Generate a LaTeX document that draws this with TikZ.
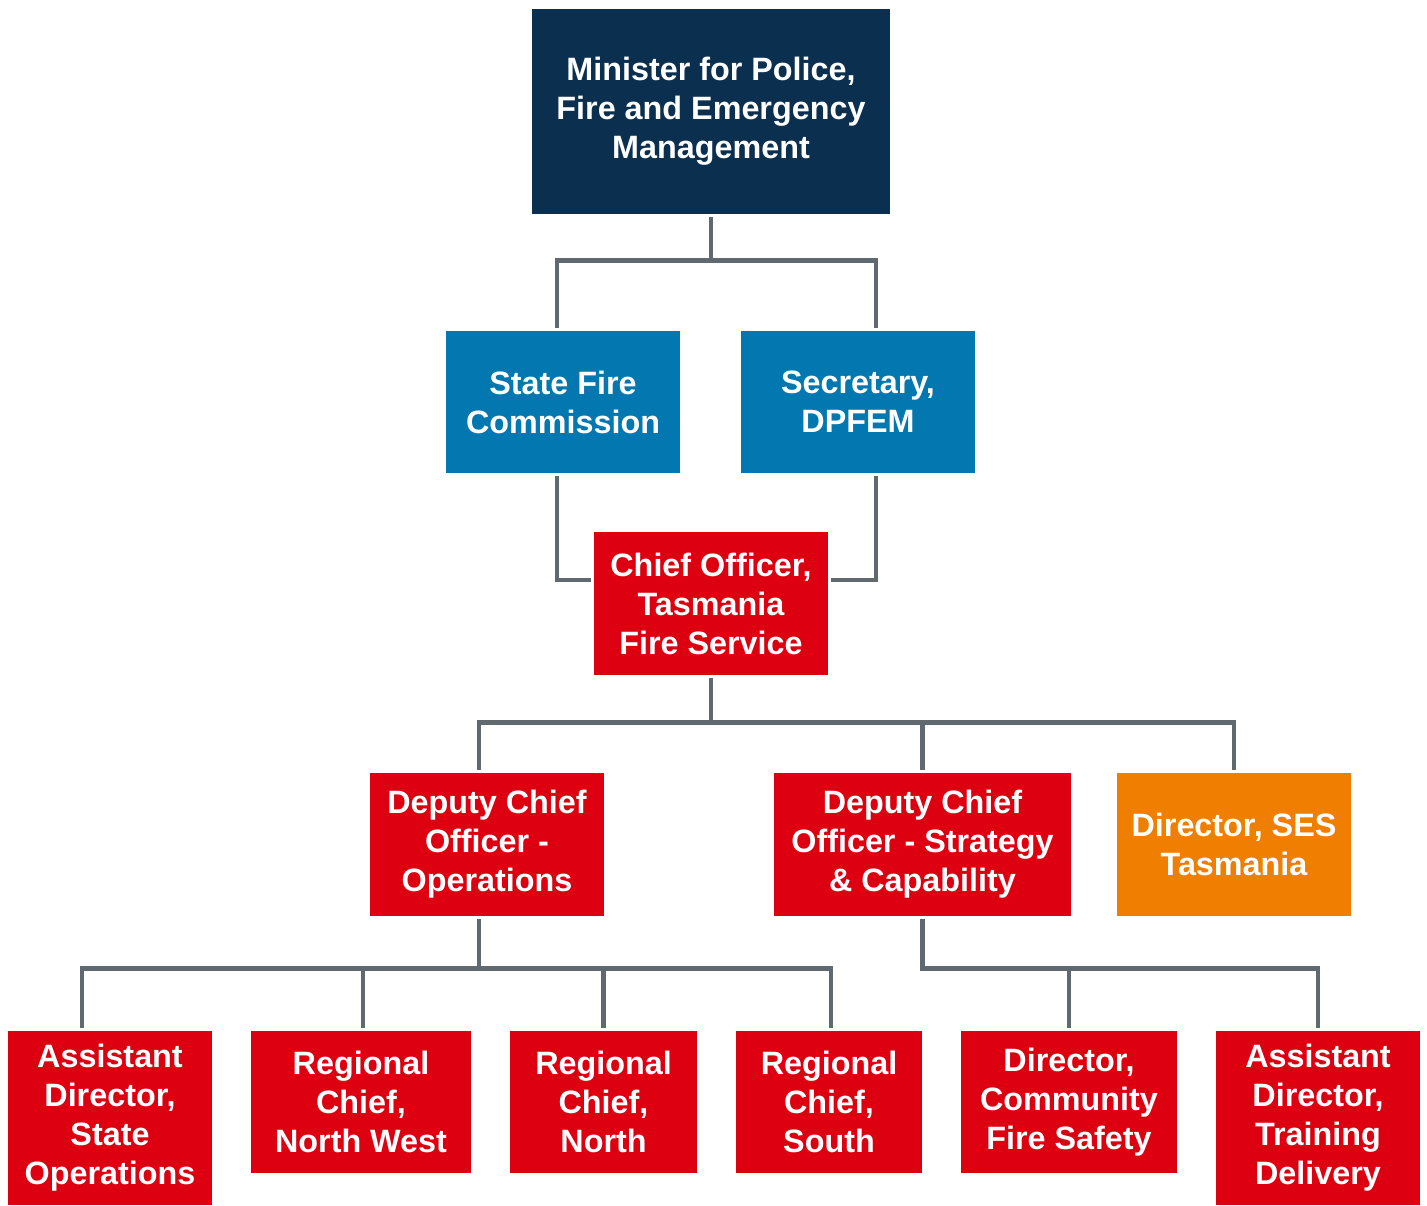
\documentclass[tikz,border=0pt]{standalone}
\usepackage{fontspec}
\setmainfont{Liberation Sans}
\usepackage{xcolor}
\definecolor{tfsNavy}{RGB}{11,47,79}
\definecolor{tfsBlue}{RGB}{2,119,176}
\definecolor{tfsRed}{RGB}{220,0,17}
\definecolor{sesOrange}{RGB}{240,126,0}
\definecolor{linkGray}{RGB}{96,104,112}
\usepackage{tikz}
\usetikzlibrary{calc}
\tikzstyle{orgbox}=[text=white, align=center, inner sep=0pt, font=\fontsize{18.4}{22.2}\selectfont\bfseries]
\tikzstyle{navybox}=[orgbox, fill=tfsNavy, minimum width=7.16cm, minimum height=4.1cm]
\tikzstyle{bluebox}=[orgbox, fill=tfsBlue, minimum width=4.68cm, minimum height=2.84cm]
\tikzstyle{redbox}=[orgbox, fill=tfsRed, minimum width=4.68cm, minimum height=2.86cm]
\tikzstyle{orangebox}=[orgbox, fill=sesOrange, minimum width=4.68cm, minimum height=2.86cm]
\tikzstyle{link}=[draw=linkGray, line width=2.8pt, shorten <=1.5pt, shorten >=1.5pt]

\begin{document}
\begin{tikzpicture}[x=0.02cm, y=-0.02cm]
    \useasboundingbox (0,0) rectangle (1427,1205);

    % Minister and the two boards under it
    \node[navybox] (minister) at (711, 111.5) {Minister for Police,\\Fire and Emergency\\Management};
    \node[bluebox] (sfc) at (563, 402) {State Fire\\Commission};
    \node[bluebox] (sec) at (858, 402) {Secretary,\\DPFEM};

    % Chief Officer
    \node[redbox] (chief) at (711, 603.5) {Chief Officer,\\Tasmania\\Fire Service};

    % Deputies and SES
    \node[redbox] (dcoops) at (487, 844.5) {Deputy Chief\\Officer -\\Operations};
    \node[redbox, minimum width=5.94cm] (dcostrat) at (922.5, 844.5) {Deputy Chief\\Officer - Strategy\\\& Capability};
    \node[orangebox] (ses) at (1234, 844.5) {Director, SES\\Tasmania};

    % Bottom row
    \node[redbox, minimum width=4.08cm, minimum height=3.48cm] (ado) at (110, 1118) {Assistant\\Director,\\State\\Operations};
    \node[redbox, minimum width=4.4cm, minimum height=2.84cm] (rcnw) at (361, 1102) {Regional\\Chief,\\North West};
    \node[redbox, minimum width=3.74cm, minimum height=2.84cm] (rcn) at (603.5, 1102) {Regional\\Chief,\\North};
    \node[redbox, minimum width=3.72cm, minimum height=2.84cm] (rcs) at (829, 1102) {Regional\\Chief,\\South};
    \node[redbox, minimum width=4.32cm, minimum height=2.84cm] (dcfs) at (1069, 1102) {Director,\\Community\\Fire Safety};
    \node[redbox, minimum width=4.08cm, minimum height=3.48cm] (adtd) at (1318, 1118) {Assistant\\Director,\\Training\\Delivery};

    % Connectors
    \draw[link] (minister.south) -- ++(0,46) -| ($(sfc.north)+(-6,0)$);
    \draw[link] (minister.south) -- ++(0,46) -| ($(sec.north)+(18,0)$);
    \draw[link] ($(sfc.south)+(-6,0)$) |- ($(chief.west)+(0,-23.5)$);
    \draw[link] ($(sec.south)+(18,0)$) |- ($(chief.east)+(0,-23.5)$);

    \draw[link] (chief.south) -- ++(0,47) -| ($(dcoops.north)+(-8,0)$);
    \foreach \t in {dcostrat,ses} {
      \draw[link] (chief.south) -- ++(0,47) -| (\t.north);
    }

    \foreach \t/\dx in {ado/-28,rcnw/2,rcn/0,rcs/2} {
      \draw[link] ($(dcoops.south)+(-8,0)$) -- ++(0,52) -| ($(\t.north)+(\dx,0)$);
    }
    \foreach \t in {dcfs,adtd} {
      \draw[link] (dcostrat.south) -- ++(0,52) -| (\t.north);
    }
\end{tikzpicture}
\end{document}
